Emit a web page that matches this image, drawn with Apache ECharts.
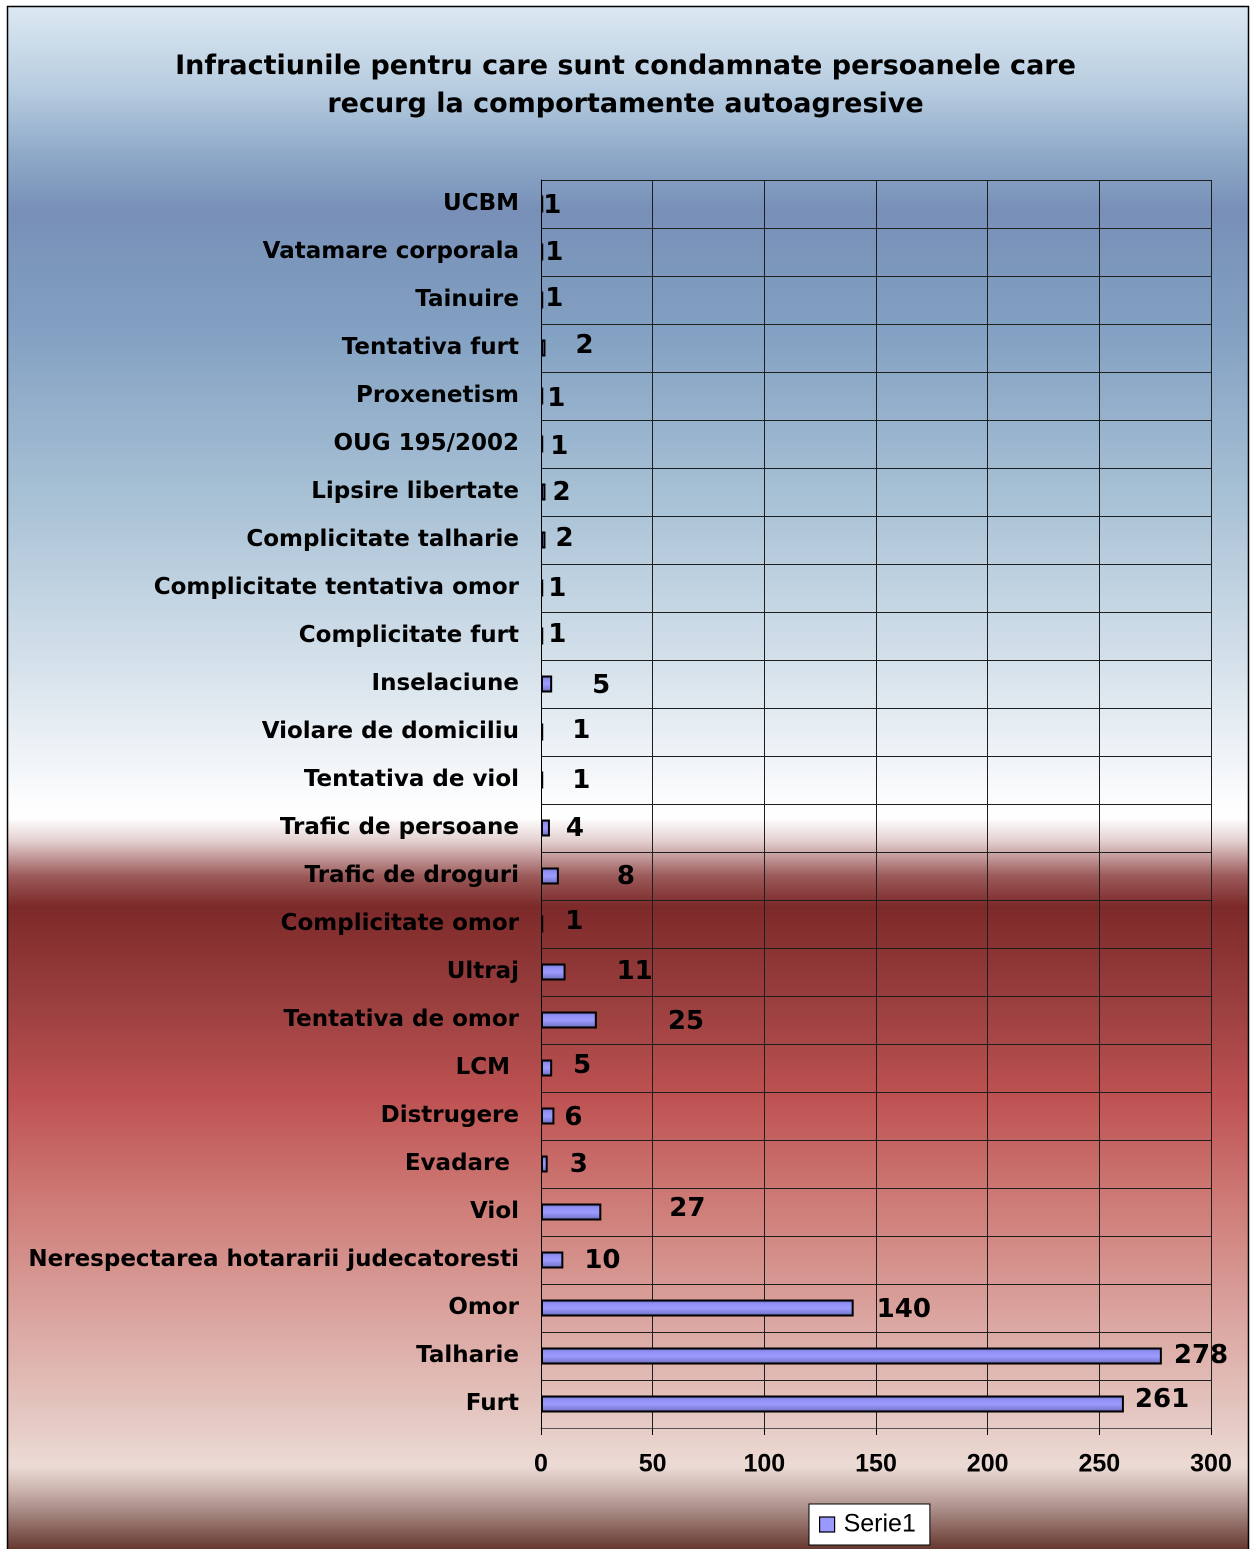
<!DOCTYPE html>
<html>
<head>
<meta charset="utf-8">
<script src="https://cdn.jsdelivr.net/npm/echarts@6/dist/echarts.min.js"></script>
<style>
html,body{margin:0;padding:0;background:#fff;overflow:hidden;}
#chart{width:1251px;height:1549px;}
</style>
</head>
<body>
<div id="chart"></div>
<script>
// ---- data (top to bottom, as shown) ----
const titleLines = [
  'Infractiunile pentru care sunt condamnate persoanele care',
  'recurg la comportamente autoagresive'
];
const categories = [
  'UCBM', 'Vatamare corporala', 'Tainuire', 'Tentativa furt', 'Proxenetism',
  'OUG 195/2002', 'Lipsire libertate', 'Complicitate talharie',
  'Complicitate tentativa omor', 'Complicitate furt', 'Inselaciune',
  'Violare de domiciliu', 'Tentativa de viol', 'Trafic de persoane',
  'Trafic de droguri', 'Complicitate omor', 'Ultraj', 'Tentativa de omor',
  'LCM', 'Distrugere', 'Evadare', 'Viol',
  'Nerespectarea hotararii judecatoresti', 'Omor', 'Talharie', 'Furt'
];
const serie1 = [
  1, 1, 1, 2, 1,
  1, 2, 2,
  1, 1, 5,
  1, 1, 4,
  8, 1, 11, 25,
  5, 6, 3, 27,
  10, 140, 278, 261
];
const seriesName = 'Serie1';
const xTicks = { min: 0, max: 300, interval: 50 };

// ---- label styling nudges (px, relative to default position) ----
const labelShift = [
  [0,0],[2,-1],[2,-3],[30,-4],[4,1],
  [7,1],[7,-1],[10,-3],
  [5,-1],[5,-3],[40,0],
  [29,-3],[29,-1],[16,-1],
  [58,-1],[22,-4],[51,-2],[71,0],
  [21,-4],[10,0],[22,-1],[68,-5],
  [21,-1],[23,0],[12,-2],[11,-6]
];
const labelRightPad = { 'LCM': 9, 'Evadare': 9 };

const chart = echarts.init(document.getElementById('chart'), null, {renderer:'canvas', devicePixelRatio: 2});

const barFill = new echarts.graphic.LinearGradient(0, 0, 0, 1, [
  {offset: 0, color: '#4a4a94'},
  {offset: 0.2, color: '#8e8ef2'},
  {offset: 0.5, color: '#9c9cff'},
  {offset: 0.8, color: '#8181da'},
  {offset: 1, color: '#4a4a86'}
]);

const H = 1549;
const bgFill = new echarts.graphic.LinearGradient(0, 0, 0, 1, [
  {offset: 0/H, color: '#dde9f3'},
  {offset: 80/H, color: '#b9cee1'},
  {offset: 150/H, color: '#8ea9c8'},
  {offset: 205/H, color: '#7890b8'},
  {offset: 320/H, color: '#82a0c2'},
  {offset: 480/H, color: '#a5bfd4'},
  {offset: 650/H, color: '#d3e0ea'},
  {offset: 790/H, color: '#fbfcfd'},
  {offset: 812/H, color: '#ffffff'},
  {offset: 835/H, color: '#e4d0d0'},
  {offset: 870/H, color: '#9c5a5a'},
  {offset: 900/H, color: '#7e2a2a'},
  {offset: 1000/H, color: '#9c4040'},
  {offset: 1090/H, color: '#be5252'},
  {offset: 1200/H, color: '#cf7d78'},
  {offset: 1300/H, color: '#daa19c'},
  {offset: 1400/H, color: '#e4c4be'},
  {offset: 1460/H, color: '#ecdbd5'},
  {offset: 1480/H, color: '#d2bab4'},
  {offset: 1505/H, color: '#a88a84'},
  {offset: 1530/H, color: '#7c544c'},
  {offset: 1, color: '#5c2b23'}
]);

const option = {
  backgroundColor: '#ffffff',
  animation: false,
  graphic: [{
    type: 'rect',
    z: -10,
    silent: true,
    shape: {x: 7.5, y: 6.5, width: 1241, height: 1548},
    style: {fill: bgFill, stroke: '#000', lineWidth: 1.5}
  }],
  title: {
    text: titleLines.join('\n'),
    left: 'center',
    top: 48,
    padding: 0,
    textStyle: {
      fontFamily: 'DejaVu Sans',
      fontWeight: 'bold',
      fontSize: 27,
      lineHeight: 38,
      color: '#000'
    }
  },
  legend: {
    data: [seriesName],
    left: 809,
    top: 1504,
    orient: 'horizontal',
    padding: [8, 14, 8, 10],
    backgroundColor: '#ffffff',
    borderColor: '#000',
    borderWidth: 1,
    borderRadius: 0,
    itemWidth: 15,
    itemHeight: 15,
    icon: 'rect',
    itemStyle: {color: '#9999ff', borderColor: '#000', borderWidth: 1.2},
    textStyle: {fontFamily: 'Liberation Sans', fontSize: 25, color: '#000', padding: [0,0,0,4]}
  },
  grid: {left: 541, right: 40, top: 180, bottom: 121, containLabel: false},
  xAxis: {
    type: 'value',
    min: xTicks.min,
    max: xTicks.max,
    interval: xTicks.interval,
    axisLine: {show: true, lineStyle: {color: '#555', width: 1}},
    axisTick: {show: true, length: 7, lineStyle: {color: '#000', width: 1}},
    splitLine: {show: true, lineStyle: {color: '#1e1e1e', width: 1}},
    axisLabel: {
      margin: 24,
      fontFamily: 'Liberation Sans',
      fontWeight: 'bold',
      fontSize: 25,
      color: '#000'
    }
  },
  yAxis: {
    type: 'category',
    inverse: true,
    data: categories.map(c => labelRightPad[c]
      ? {value: c, textStyle: {padding: [0, labelRightPad[c], 0, 0]}}
      : c),
    axisLine: {show: true, lineStyle: {color: '#000', width: 1}},
    axisTick: {show: false},
    splitLine: {show: true, lineStyle: {color: '#1e1e1e', width: 1}},
    axisLabel: {
      margin: 22,
      interval: 0,
      fontFamily: 'DejaVu Sans',
      fontWeight: 'bold',
      fontSize: 23,
      color: '#000',
      padding: [3, 0, 0, 0]
    }
  },
  series: [{
    name: seriesName,
    type: 'bar',
    barWidth: 17,
    data: serie1.map((v, i) => ({
      value: v,
      label: {offset: [labelShift[i][0], labelShift[i][1] + 2]}
    })),
    itemStyle: {color: barFill, borderColor: '#000', borderWidth: 2},
    label: {
      show: true,
      position: 'right',
      distance: 0,
      fontFamily: 'DejaVu Sans',
      fontWeight: 'bold',
      fontSize: 26,
      color: '#000'
    }
  }]
};
chart.setOption(option);
</script>
</body>
</html>
